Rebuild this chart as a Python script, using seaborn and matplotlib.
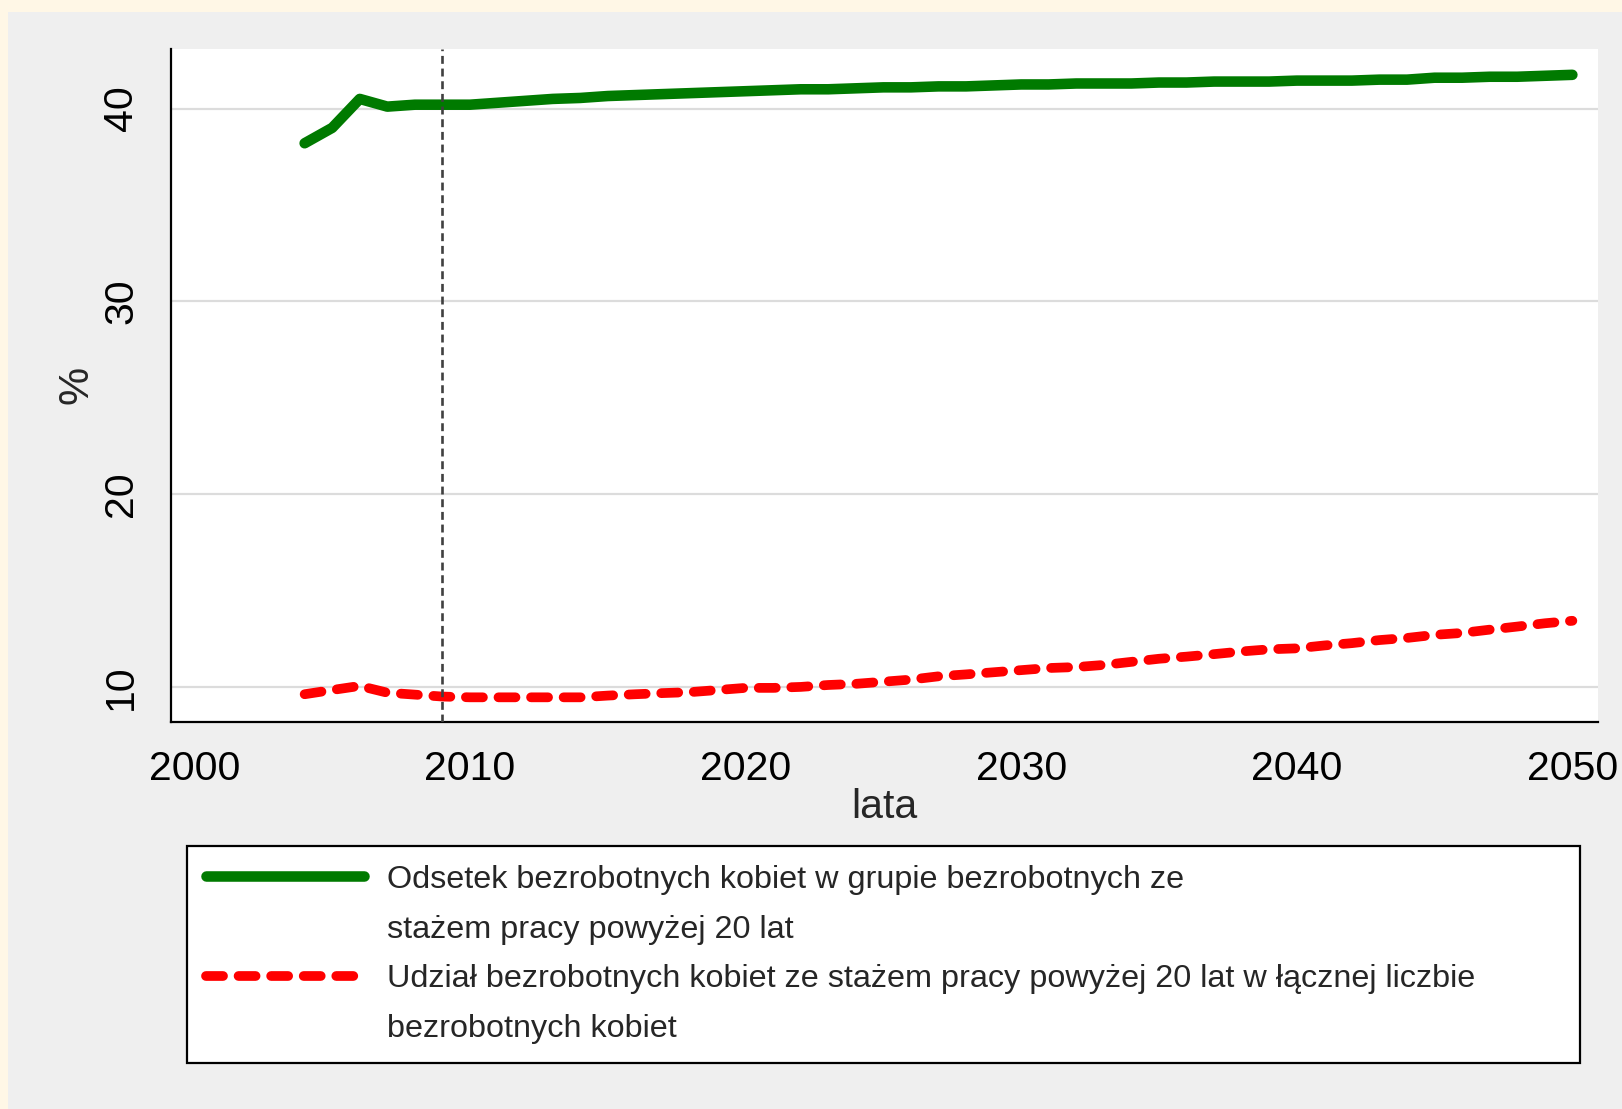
import numpy as np
import pandas as pd
import matplotlib
matplotlib.use("Agg")
import matplotlib.pyplot as plt
from matplotlib.lines import Line2D
from matplotlib.patches import Rectangle
import seaborn as sns

# ---------------- data ----------------
years = list(range(2004, 2051))
share_in_group = [38.2, 39.0, 40.5, 40.1, 40.2, 40.2, 40.2, 40.3, 40.4, 40.5,
                  40.55, 40.65, 40.7, 40.75, 40.8, 40.85, 40.9, 40.95, 41.0, 41.0,
                  41.05, 41.1, 41.1, 41.15, 41.15, 41.2, 41.25, 41.25, 41.3, 41.3,
                  41.3, 41.35, 41.35, 41.4, 41.4, 41.4, 41.45, 41.45, 41.45, 41.5,
                  41.5, 41.6, 41.6, 41.65, 41.65, 41.7, 41.75]
share_in_total = [9.62, 9.84, 10.05, 9.7, 9.6, 9.5, 9.46, 9.46, 9.46, 9.46,
                  9.46, 9.55, 9.62, 9.68, 9.73, 9.84, 9.95, 9.95, 10.0, 10.1,
                  10.16, 10.27, 10.38, 10.55, 10.65, 10.76, 10.87, 10.98, 11.03, 11.14,
                  11.3, 11.46, 11.57, 11.7, 11.84, 11.95, 12.0, 12.15, 12.27, 12.43,
                  12.54, 12.7, 12.8, 12.97, 13.13, 13.3, 13.43]
x_ticks = [2000, 2010, 2020, 2030, 2040, 2050]
y_ticks = [10, 20, 30, 40]
forecast_start = 2009
label_green = ["Odsetek bezrobotnych kobiet w grupie bezrobotnych ze",
               "stażem pracy powyżej 20 lat"]
label_red = ["Udział bezrobotnych kobiet ze stażem pracy powyżej 20 lat w łącznej liczbie",
             "bezrobotnych kobiet"]
x_label = "lata"
y_label = "%"

# ---------------- style ----------------
sns.set_style("white")
plt.rcParams["font.family"] = ["Liberation Sans", "DejaVu Sans"]

PANEL = "#efefef"
CREAM = "#fff7e6"
GREEN = "#007a00"
RED = "#ff0000"
GREEN_LW = 7.6
RED_LW = 7.0
RED_STYLE = (0, (1.75, 1.6))

fig = plt.figure(figsize=(16.22, 11.09), dpi=100, facecolor=PANEL)
# slide background strips (top / left)
fig.patches.append(Rectangle((0, 1 - 12 / 1109), 1, 12 / 1109, transform=fig.transFigure,
                             facecolor=CREAM, edgecolor="none", zorder=0))
fig.patches.append(Rectangle((0, 0), 8 / 1622, 1, transform=fig.transFigure,
                             facecolor=CREAM, edgecolor="none", zorder=0))

ax = fig.add_axes([170.7 / 1622, (1109 - 722) / 1109, (1598 - 170.7) / 1622, (722 - 48.6) / 1109])
ax.set_facecolor("white")

df = pd.DataFrame({"year": years, "group": share_in_group, "total": share_in_total})

sns.lineplot(data=df, x="year", y="group", ax=ax, color=GREEN, linewidth=GREEN_LW,
             solid_capstyle="round", solid_joinstyle="round", zorder=3)
sns.lineplot(data=df, x="year", y="total", ax=ax, color=RED, linewidth=RED_LW,
             linestyle=RED_STYLE, dash_capstyle="round", dash_joinstyle="round", zorder=3)

ax.axvline(forecast_start, color="#404040", linewidth=1.9, dashes=(3.0, 1.8), zorder=4)

ax.set_xlim(1999.14, 2050.93)
ax.set_ylim(8.18, 43.11)
ax.set_xticks(x_ticks)
ax.set_yticks(y_ticks)
ax.set_xticklabels([str(t) for t in x_ticks], fontsize=29.5)
ax.set_yticklabels([str(t) for t in y_ticks], fontsize=29.5, rotation=90, va="center")
ax.tick_params(axis="both", direction="out", length=9, width=1.5, color="black",
               labelcolor="black")
ax.tick_params(axis="x", pad=11)
ax.tick_params(axis="y", pad=13)
ax.grid(axis="y", color="#dcdcdc", linewidth=1.6)
ax.grid(axis="x", visible=False)
ax.set_axisbelow(True)

for side in ["top", "right"]:
    ax.spines[side].set_visible(False)
for side in ["left", "bottom"]:
    ax.spines[side].set_color("black")
    ax.spines[side].set_linewidth(1.6)

ax.set_xlabel(x_label, fontsize=29.5, labelpad=0)
ax.set_ylabel(y_label, fontsize=31, labelpad=4)

# legend
h_green = Line2D([], [], color=GREEN, linewidth=GREEN_LW, solid_capstyle="round")
h_red = Line2D([], [], color=RED, linewidth=RED_LW, linestyle=RED_STYLE, dash_capstyle="round")
h_blank = Line2D([], [], color="none")
handles = [h_green, h_blank, h_red, h_blank]
labels = [label_green[0], label_green[1], label_red[0], label_red[1]]
leg = fig.legend(handles, labels, loc="upper left",
                 bbox_to_anchor=(187 / 1622, (1109 - 846) / 1109, (1580 - 187) / 1622, 0.0),
                 mode="expand", fontsize=23.3, frameon=True, fancybox=False, shadow=False,
                 framealpha=1, facecolor="white", edgecolor="black",
                 handlelength=4.9, handletextpad=0.7, labelspacing=0.61,
                 borderpad=0.58, borderaxespad=0)
leg.get_frame().set_linewidth(1.6)

fig.savefig("out.png", dpi=100, facecolor=fig.get_facecolor())
